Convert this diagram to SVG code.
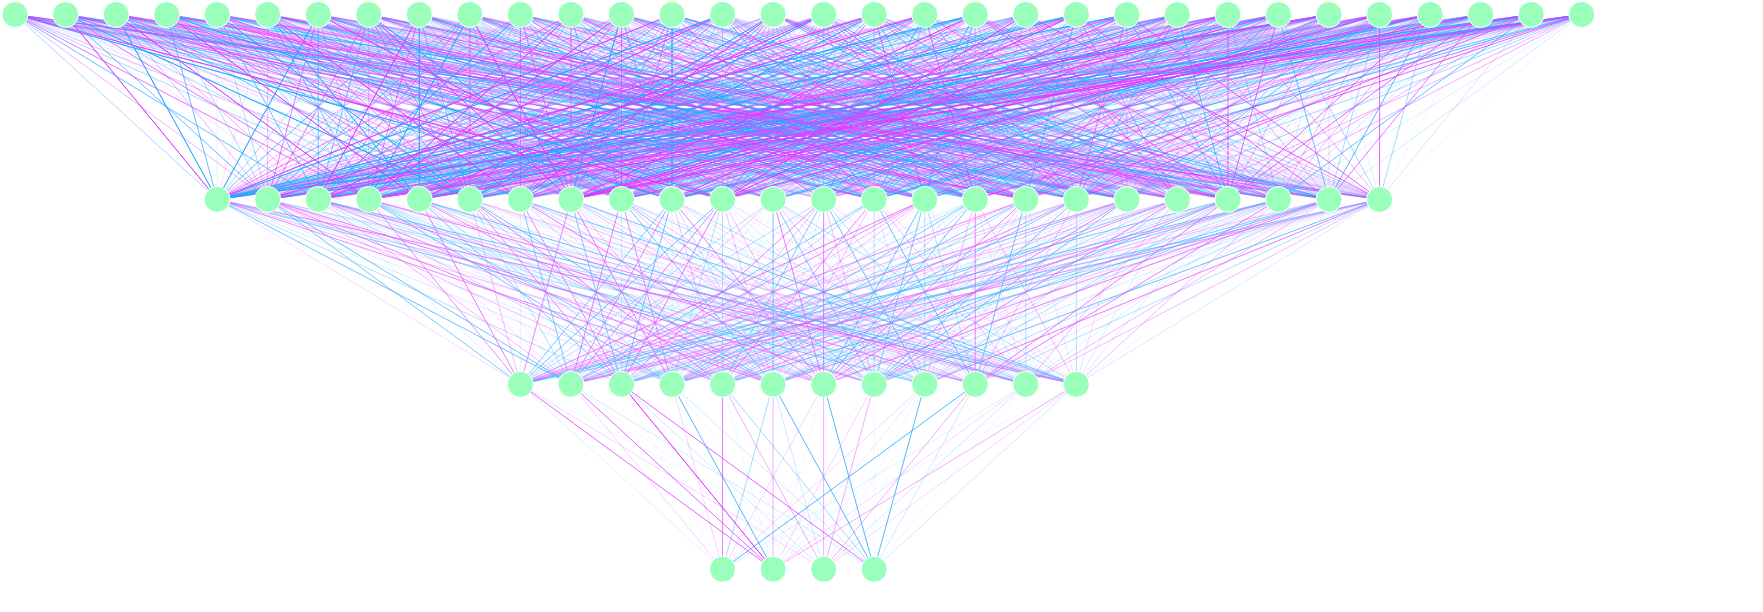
<svg xmlns="http://www.w3.org/2000/svg" width="1763" height="612" viewBox="0 0 1763 612">
<style>
path{fill:none;stroke-width:1;stroke-linejoin:round}
.a{stroke:#27a6ff;stroke-opacity:.8}
.b{stroke:#dd3cff;stroke-opacity:.8}
.c{stroke:#27a6ff;stroke-opacity:.42}
.d{stroke:#dd3cff;stroke-opacity:.42}
.e{stroke:#27a6ff;stroke-opacity:.22}
.f{stroke:#dd3cff;stroke-opacity:.22}
.g{stroke:#27a6ff;stroke-opacity:.08}
.k{stroke:#dd3cff;stroke-opacity:.08}
circle{fill:#99ffbb;stroke:#fff;stroke-width:1}
</style>
<rect width="1763" height="612" fill="#fff"/>
<g id="connectors" transform="matrix(50.54 0 0 184.93 15 14.5)">
<g id="edges-1-2">
<path class="g" vector-effect="non-scaling-stroke" d="M0 0 10 1 0 0 23 1 0 0 12 1 0 0 25 1M1 0 11 1 1 0 24 1 1 0 14 1 1 0 27 1M2 0 8 1 2 0 21 1 2 0 14 1 2 0 27 1M3 0 6 1 3 0 19 1 3 0 7 1 3 0 20 1M4 0 4 1 4 0 17 1 4 0 16 1M5 0 6 1 5 0 19 1 5 0 15 1M6 0 8 1 6 0 21 1 6 0 16 1M7 0 13 1 7 0 26 1 7 0 15 1M8 0 10 1 8 0 23 1 8 0 14 1 8 0 27 1M9 0 8 1 9 0 21 1 9 0 16 1M10 0 9 1 10 0 22 1 10 0 15 1M11 0 10 1 11 0 23 1 11 0 13 1 11 0 26 1M12 0 10 1 12 0 23 1 12 0 15 1M13 0 9 1 13 0 22 1 13 0 14 1 13 0 27 1M14 0 11 1 14 0 24 1 14 0 15 1M15 0 6 1 15 0 19 1 15 0 8 1 15 0 21 1M16 0 10 1 16 0 23 1 16 0 12 1 16 0 25 1M17 0 12 1 17 0 25 1 17 0 15 1M18 0 7 1 18 0 20 1 18 0 13 1 18 0 26 1M19 0 9 1 19 0 22 1 19 0 10 1 19 0 23 1M20 0 5 1 20 0 18 1 20 0 9 1 20 0 22 1M21 0 14 1 21 0 27 1 21 0 15 1M22 0 7 1 22 0 20 1 22 0 13 1 22 0 26 1M23 0 6 1 23 0 19 1 23 0 9 1 23 0 22 1M24 0 5 1 24 0 18 1 24 0 8 1 24 0 21 1M25 0 5 1 25 0 18 1 25 0 12 1 25 0 25 1M26 0 14 1 26 0 27 1 26 0 16 1M27 0 5 1 27 0 18 1 27 0 16 1M28 0 6 1 28 0 19 1 28 0 15 1M29 0 6 1 29 0 19 1 29 0 14 1 29 0 27 1M30 0 5 1 30 0 18 1 30 0 13 1 30 0 26 1M31 0 12 1 31 0 25 1 31 0 16 1"/>
<path class="k" vector-effect="non-scaling-stroke" d="M0 0 11 1 0 0 24 1M1 0 6 1 1 0 19 1M2 0 11 1 2 0 24 1M3 0 13 1 3 0 26 1M4 0 10 1 4 0 23 1M5 0 4 1 5 0 17 1M6 0 12 1 6 0 25 1M7 0 14 1 7 0 27 1M8 0 12 1 8 0 25 1M9 0 12 1 9 0 25 1M10 0 12 1 10 0 25 1M11 0 5 1 11 0 18 1M12 0 6 1 12 0 19 1M13 0 5 1 13 0 18 1M14 0 13 1 14 0 26 1M15 0 7 1 15 0 20 1M16 0 11 1 16 0 24 1M17 0 7 1 17 0 20 1M18 0 10 1 18 0 23 1M19 0 16 1M20 0 7 1 20 0 20 1M21 0 8 1 21 0 21 1M22 0 10 1 22 0 23 1M23 0 14 1 23 0 27 1M24 0 13 1 24 0 26 1M25 0 15 1M26 0 15 1M27 0 4 1 27 0 17 1M28 0 4 1 28 0 17 1M29 0 10 1 29 0 23 1M30 0 9 1 30 0 22 1M31 0 14 1 31 0 27 1"/>
<path class="e" vector-effect="non-scaling-stroke" d="M0 0 4 1 0 0 17 1 0 0 8 1 0 0 21 1M1 0 8 1 1 0 21 1 1 0 15 1M2 0 15 1 2 0 16 1M3 0 5 1 3 0 18 1 3 0 16 1M4 0 5 1 4 0 18 1 4 0 7 1 4 0 20 1M5 0 11 1 5 0 24 1 5 0 16 1M6 0 11 1 6 0 24 1 6 0 14 1 6 0 27 1M7 0 4 1 7 0 17 1 7 0 8 1 7 0 21 1M8 0 5 1 8 0 18 1 8 0 13 1 8 0 26 1M9 0 10 1 9 0 23 1 9 0 13 1 9 0 26 1M10 0 7 1 10 0 20 1 10 0 8 1 10 0 21 1M11 0 9 1 11 0 22 1 11 0 16 1M12 0 5 1 12 0 18 1 12 0 8 1 12 0 21 1M13 0 6 1 13 0 19 1 13 0 16 1M14 0 7 1 14 0 20 1 14 0 12 1 14 0 25 1M15 0 4 1 15 0 17 1 15 0 13 1 15 0 26 1M16 0 5 1 16 0 18 1 16 0 14 1 16 0 27 1M17 0 9 1 17 0 22 1 17 0 16 1M18 0 14 1 18 0 27 1 18 0 15 1M19 0 6 1 19 0 19 1 19 0 8 1 19 0 21 1M20 0 8 1 20 0 21 1 20 0 13 1 20 0 26 1M21 0 5 1 21 0 18 1 21 0 16 1M22 0 5 1 22 0 18 1 22 0 6 1 22 0 19 1M23 0 5 1 23 0 18 1 23 0 12 1 23 0 25 1M24 0 9 1 24 0 22 1 24 0 15 1M25 0 6 1 25 0 19 1 25 0 7 1 25 0 20 1M26 0 8 1 26 0 21 1 26 0 12 1 26 0 25 1M27 0 7 1 27 0 20 1 27 0 11 1 27 0 24 1M28 0 5 1 28 0 18 1 28 0 10 1 28 0 23 1M29 0 9 1 29 0 22 1 29 0 12 1 29 0 25 1M30 0 7 1 30 0 20 1 30 0 10 1 30 0 23 1M31 0 8 1 31 0 21 1 31 0 13 1 31 0 26 1"/>
<path class="f" vector-effect="non-scaling-stroke" d="M0 0 5 1 0 0 18 1 0 0 9 1 0 0 22 1M1 0 10 1 1 0 23 1 1 0 16 1M2 0 5 1 2 0 18 1 2 0 6 1 2 0 19 1M3 0 10 1 3 0 23 1 3 0 12 1 3 0 25 1M4 0 11 1 4 0 24 1 4 0 13 1 4 0 26 1M5 0 5 1 5 0 18 1 5 0 13 1 5 0 26 1M6 0 7 1 6 0 20 1 6 0 10 1 6 0 23 1M7 0 7 1 7 0 20 1 7 0 16 1M8 0 11 1 8 0 24 1 8 0 16 1M9 0 4 1 9 0 17 1 9 0 14 1 9 0 27 1M10 0 4 1 10 0 17 1 10 0 5 1 10 0 18 1M11 0 8 1 11 0 21 1 11 0 14 1 11 0 27 1M12 0 4 1 12 0 17 1 12 0 14 1 12 0 27 1M13 0 7 1 13 0 20 1 13 0 10 1 13 0 23 1M14 0 9 1 14 0 22 1 14 0 14 1 14 0 27 1M15 0 5 1 15 0 18 1 15 0 14 1 15 0 27 1M16 0 4 1 16 0 17 1 16 0 13 1 16 0 26 1M17 0 4 1 17 0 17 1 17 0 11 1 17 0 24 1M18 0 4 1 18 0 17 1 18 0 5 1 18 0 18 1M19 0 13 1 19 0 26 1 19 0 15 1M20 0 6 1 20 0 19 1 20 0 11 1 20 0 24 1M21 0 9 1 21 0 22 1 21 0 11 1 21 0 24 1M22 0 15 1 22 0 16 1M23 0 4 1 23 0 17 1 23 0 10 1 23 0 23 1M24 0 4 1 24 0 17 1 24 0 10 1 24 0 23 1M25 0 9 1 25 0 22 1 25 0 10 1 25 0 23 1M26 0 9 1 26 0 22 1 26 0 13 1 26 0 26 1M27 0 6 1 27 0 19 1 27 0 10 1 27 0 23 1M28 0 8 1 28 0 21 1 28 0 16 1M29 0 5 1 29 0 18 1 29 0 8 1 29 0 21 1M30 0 11 1 30 0 24 1 30 0 14 1 30 0 27 1M31 0 10 1 31 0 23 1 31 0 15 1"/>
<path class="c" vector-effect="non-scaling-stroke" d="M0 0 6 1 0 0 19 1 0 0 15 1M1 0 5 1 1 0 18 1 1 0 12 1 1 0 25 1M2 0 9 1 2 0 22 1 2 0 10 1 2 0 23 1M3 0 4 1 3 0 17 1 3 0 15 1M4 0 6 1 4 0 19 1 4 0 8 1 4 0 21 1M5 0 7 1 5 0 20 1 5 0 12 1 5 0 25 1M6 0 6 1 6 0 19 1 6 0 9 1 6 0 22 1M7 0 6 1 7 0 19 1 7 0 10 1 7 0 23 1M8 0 4 1 8 0 17 1 8 0 9 1 8 0 22 1M9 0 5 1 9 0 18 1 9 0 15 1M10 0 13 1 10 0 26 1 10 0 14 1 10 0 27 1M11 0 6 1 11 0 19 1 11 0 12 1 11 0 25 1M12 0 13 1 12 0 26 1 12 0 16 1M13 0 8 1 13 0 21 1 13 0 11 1 13 0 24 1M14 0 8 1 14 0 21 1 14 0 16 1M15 0 11 1 15 0 24 1 15 0 15 1M16 0 7 1 16 0 20 1 16 0 16 1M17 0 6 1 17 0 19 1 17 0 13 1 17 0 26 1M18 0 8 1 18 0 21 1 18 0 9 1 18 0 22 1M19 0 5 1 19 0 18 1 19 0 7 1 19 0 20 1M20 0 4 1 20 0 17 1 20 0 12 1 20 0 25 1M21 0 4 1 21 0 17 1 21 0 6 1 21 0 19 1M22 0 11 1 22 0 24 1 22 0 12 1 22 0 25 1M23 0 8 1 23 0 21 1 23 0 15 1M24 0 6 1 24 0 19 1 24 0 12 1 24 0 25 1M25 0 13 1 25 0 26 1 25 0 14 1 25 0 27 1M26 0 6 1 26 0 19 1 26 0 10 1 26 0 23 1M27 0 9 1 27 0 22 1 27 0 13 1 27 0 26 1M28 0 9 1 28 0 22 1 28 0 14 1 28 0 27 1M29 0 4 1 29 0 17 1 29 0 7 1 29 0 20 1M30 0 12 1 30 0 25 1 30 0 15 1M31 0 4 1 31 0 17 1 31 0 9 1 31 0 22 1"/>
<path class="d" vector-effect="non-scaling-stroke" d="M0 0 7 1 0 0 20 1 0 0 16 1M1 0 7 1 1 0 20 1 1 0 13 1 1 0 26 1M2 0 12 1 2 0 25 1 2 0 13 1 2 0 26 1M3 0 9 1 3 0 22 1 3 0 11 1 3 0 24 1M4 0 12 1 4 0 25 1 4 0 14 1 4 0 27 1M5 0 9 1 5 0 22 1 5 0 14 1 5 0 27 1M6 0 5 1 6 0 18 1 6 0 15 1M7 0 5 1 7 0 18 1 7 0 9 1 7 0 22 1M8 0 7 1 8 0 20 1 8 0 15 1M9 0 6 1 9 0 19 1 9 0 9 1 9 0 22 1M10 0 10 1 10 0 23 1 10 0 11 1 10 0 24 1M11 0 4 1 11 0 17 1 11 0 11 1 11 0 24 1M12 0 9 1 12 0 22 1 12 0 12 1 12 0 25 1M13 0 12 1 13 0 25 1 13 0 15 1M14 0 5 1 14 0 18 1 14 0 10 1 14 0 23 1M15 0 12 1 15 0 25 1 15 0 16 1M16 0 6 1 16 0 19 1 16 0 15 1M17 0 8 1 17 0 21 1 17 0 14 1 17 0 27 1M18 0 11 1 18 0 24 1 18 0 12 1 18 0 25 1M19 0 12 1 19 0 25 1 19 0 14 1 19 0 27 1M20 0 10 1 20 0 23 1 20 0 15 1M21 0 10 1 21 0 23 1 21 0 12 1 21 0 25 1M22 0 8 1 22 0 21 1 22 0 9 1 22 0 22 1M23 0 7 1 23 0 20 1 23 0 13 1 23 0 26 1M24 0 7 1 24 0 20 1 24 0 14 1 24 0 27 1M25 0 4 1 25 0 17 1 25 0 16 1M26 0 7 1 26 0 20 1 26 0 11 1 26 0 24 1M27 0 8 1 27 0 21 1 27 0 12 1 27 0 25 1M28 0 7 1 28 0 20 1 28 0 12 1 28 0 25 1M29 0 13 1 29 0 26 1 29 0 16 1M30 0 6 1 30 0 19 1 30 0 16 1M31 0 6 1 31 0 19 1 31 0 11 1 31 0 24 1"/>
<path class="a" vector-effect="non-scaling-stroke" d="M0 0 13 1 0 0 26 1M1 0 9 1 1 0 22 1M2 0 4 1 2 0 17 1M3 0 14 1 3 0 27 1M4 0 9 1 4 0 22 1M5 0 8 1 5 0 21 1M6 0 4 1 6 0 17 1M7 0 12 1 7 0 25 1M8 0 8 1 8 0 21 1M9 0 7 1 9 0 20 1M10 0 6 1 10 0 19 1M11 0 15 1M12 0 11 1 12 0 24 1M13 0 13 1 13 0 26 1M14 0 4 1 14 0 17 1M15 0 9 1 15 0 22 1M16 0 9 1 16 0 22 1M17 0 10 1 17 0 23 1M18 0 16 1M19 0 4 1 19 0 17 1M20 0 16 1M21 0 7 1 21 0 20 1M22 0 4 1 22 0 17 1M23 0 11 1 23 0 24 1M24 0 16 1M25 0 8 1 25 0 21 1M26 0 4 1 26 0 17 1M27 0 15 1M28 0 13 1 28 0 26 1M29 0 15 1M30 0 4 1 30 0 17 1M31 0 5 1 31 0 18 1"/>
<path class="b" vector-effect="non-scaling-stroke" d="M0 0 14 1 0 0 27 1M1 0 4 1 1 0 17 1M2 0 7 1 2 0 20 1M3 0 8 1 3 0 21 1M4 0 15 1M5 0 10 1 5 0 23 1M6 0 13 1 6 0 26 1M7 0 11 1 7 0 24 1M8 0 6 1 8 0 19 1M9 0 11 1 9 0 24 1M10 0 16 1M11 0 7 1 11 0 20 1M12 0 7 1 12 0 20 1M13 0 4 1 13 0 17 1M14 0 6 1 14 0 19 1M15 0 10 1 15 0 23 1M16 0 8 1 16 0 21 1M17 0 5 1 17 0 18 1M18 0 6 1 18 0 19 1M19 0 11 1 19 0 24 1M20 0 14 1 20 0 27 1M21 0 13 1 21 0 26 1M22 0 14 1 22 0 27 1M23 0 16 1M24 0 11 1 24 0 24 1M25 0 11 1 25 0 24 1M26 0 5 1 26 0 18 1M27 0 14 1 27 0 27 1M28 0 11 1 28 0 24 1M29 0 11 1 29 0 24 1M30 0 8 1 30 0 21 1M31 0 7 1 31 0 20 1"/>
</g>
<g id="edges-2-3" opacity="0.85">
<path class="g" vector-effect="non-scaling-stroke" d="M4 1 14 2 4 1 20 2M5 1 18 2 5 1 19 2M6 1 10 2 6 1 14 2M7 1 18 2 7 1 19 2M8 1 11 2 8 1 17 2M9 1 16 2 9 1 18 2M10 1 10 2 10 1 13 2M11 1 16 2 11 1 19 2M12 1 14 2 12 1 19 2M13 1 13 2 13 1 21 2M14 1 17 2 14 1 21 2M15 1 12 2 15 1 14 2M16 1 11 2 16 1 20 2M17 1 10 2 17 1 16 2M18 1 21 2M19 1 10 2 19 1 11 2M20 1 15 2M21 1 12 2 21 1 15 2M22 1 18 2 22 1 20 2M23 1 11 2 23 1 14 2M24 1 11 2 24 1 16 2M25 1 14 2M26 1 12 2 26 1 21 2M27 1 14 2 27 1 16 2"/>
<path class="k" vector-effect="non-scaling-stroke" d="M4 1 17 2M5 1 12 2M6 1 12 2M7 1 12 2M8 1 14 2M9 1 17 2M10 1 18 2M11 1 11 2M12 1 10 2M13 1 17 2M14 1 19 2M15 1 13 2M16 1 12 2M17 1 13 2M18 1 15 2M19 1 17 2M20 1 12 2M21 1 20 2M22 1 19 2M23 1 19 2M24 1 20 2M25 1 18 2M26 1 10 2M27 1 15 2"/>
<path class="e" vector-effect="non-scaling-stroke" d="M4 1 12 2 4 1 13 2M5 1 20 2M6 1 13 2 6 1 18 2M7 1 15 2 7 1 17 2M8 1 18 2 8 1 19 2M9 1 11 2 9 1 20 2M10 1 14 2 10 1 20 2M11 1 15 2M12 1 12 2M13 1 15 2 13 1 18 2M14 1 13 2 14 1 18 2M15 1 10 2 15 1 19 2M16 1 10 2 16 1 15 2M17 1 17 2 17 1 18 2M18 1 18 2 18 1 20 2M19 1 12 2 19 1 14 2M20 1 20 2 20 1 21 2M21 1 11 2 21 1 18 2M22 1 13 2M23 1 15 2 23 1 21 2M24 1 18 2 24 1 21 2M25 1 17 2 25 1 20 2M26 1 17 2M27 1 12 2 27 1 21 2"/>
<path class="f" vector-effect="non-scaling-stroke" d="M4 1 10 2M5 1 13 2 5 1 15 2M6 1 11 2 6 1 16 2M7 1 11 2M8 1 21 2M9 1 10 2 9 1 19 2M10 1 15 2M11 1 14 2 11 1 20 2M12 1 18 2 12 1 21 2M13 1 19 2M14 1 15 2 14 1 20 2M15 1 11 2 15 1 20 2M16 1 13 2 16 1 21 2M17 1 20 2 17 1 21 2M18 1 12 2 18 1 14 2M19 1 18 2 19 1 20 2M20 1 17 2 20 1 18 2M21 1 10 2 21 1 16 2M22 1 12 2 22 1 21 2M23 1 10 2 23 1 16 2M24 1 12 2M25 1 13 2 25 1 16 2M26 1 11 2 26 1 19 2M27 1 13 2"/>
<path class="c" vector-effect="non-scaling-stroke" d="M4 1 18 2 4 1 19 2M5 1 10 2 5 1 21 2M6 1 17 2M7 1 14 2 7 1 16 2M8 1 12 2 8 1 13 2M9 1 13 2M10 1 11 2 10 1 17 2M11 1 12 2 11 1 18 2M12 1 17 2 12 1 20 2M13 1 10 2 13 1 20 2M14 1 14 2M15 1 17 2 15 1 21 2M16 1 14 2 16 1 19 2M17 1 11 2 17 1 12 2M18 1 17 2 18 1 19 2M19 1 13 2 19 1 15 2M20 1 13 2 20 1 14 2M21 1 14 2 21 1 21 2M22 1 11 2 22 1 15 2M23 1 12 2 23 1 18 2M24 1 10 2 24 1 13 2M25 1 12 2 25 1 15 2M26 1 13 2 26 1 18 2M27 1 10 2 27 1 19 2"/>
<path class="d" vector-effect="non-scaling-stroke" d="M4 1 15 2 4 1 16 2M5 1 14 2 5 1 16 2M6 1 15 2 6 1 20 2M7 1 10 2 7 1 21 2M8 1 15 2 8 1 16 2M9 1 12 2 9 1 21 2M10 1 12 2 10 1 19 2M11 1 10 2 11 1 17 2M12 1 13 2 12 1 16 2M13 1 11 2 13 1 14 2M14 1 11 2 14 1 16 2M15 1 18 2M16 1 12 2 16 1 17 2M17 1 14 2 17 1 15 2M18 1 11 2 18 1 13 2M19 1 19 2 19 1 21 2M20 1 10 2 20 1 11 2M21 1 13 2 21 1 19 2M22 1 10 2 22 1 14 2M23 1 13 2 23 1 20 2M24 1 14 2 24 1 17 2M25 1 11 2 25 1 21 2M26 1 15 2 26 1 20 2M27 1 11 2 27 1 20 2"/>
<path class="a" vector-effect="non-scaling-stroke" d="M4 1 11 2M5 1 11 2M6 1 21 2M7 1 13 2M8 1 20 2M9 1 15 2M10 1 21 2M11 1 21 2M12 1 15 2M13 1 12 2M14 1 10 2M15 1 15 2M16 1 18 2M17 1 19 2M18 1 16 2M19 1 16 2M20 1 19 2M21 1 17 2M22 1 17 2M24 1 15 2M25 1 10 2M26 1 14 2M27 1 17 2"/>
<path class="b" vector-effect="non-scaling-stroke" d="M4 1 21 2M5 1 17 2M6 1 19 2M7 1 20 2M8 1 10 2M9 1 14 2M10 1 16 2M11 1 13 2M12 1 11 2M13 1 16 2M14 1 12 2M15 1 16 2M16 1 16 2M18 1 10 2M20 1 16 2M22 1 16 2M23 1 17 2M24 1 19 2M25 1 19 2M26 1 16 2M27 1 18 2"/>
</g>
<g id="edges-3-4">
<path class="g" vector-effect="non-scaling-stroke" d="M10 2 14 3 10 2 17 3M11 2 16 3M12 2 14 3M13 2 16 3M14 2 15 3M16 2 15 3M17 2 17 3M18 2 15 3 18 2 16 3M19 2 15 3M20 2 14 3 20 2 17 3M21 2 14 3"/>
<path class="k" vector-effect="non-scaling-stroke" d="M17 2 14 3"/>
<path class="e" vector-effect="non-scaling-stroke" d="M11 2 17 3M12 2 16 3M13 2 17 3M15 2 14 3 15 2 16 3M19 2 17 3M20 2 16 3M21 2 17 3"/>
<path class="f" vector-effect="non-scaling-stroke" d="M10 2 16 3M11 2 14 3M13 2 14 3M16 2 14 3M17 2 15 3M18 2 14 3M20 2 15 3M21 2 16 3"/>
<path class="c" vector-effect="non-scaling-stroke" d="M14 2 17 3"/>
<path class="d" vector-effect="non-scaling-stroke" d="M14 2 14 3 14 2 16 3M15 2 15 3M16 2 16 3M17 2 16 3M19 2 16 3M21 2 15 3"/>
<path class="a" vector-effect="non-scaling-stroke" d="M13 2 15 3M15 2 17 3M16 2 17 3M18 2 17 3M19 2 14 3"/>
<path class="b" vector-effect="non-scaling-stroke" d="M10 2 15 3M11 2 15 3M12 2 15 3 12 2 17 3"/>
</g>
</g>
<g id="layer1">
<g id="n1-1"><circle cx="15" cy="14.5" r="13"/></g>
<g id="n1-2"><circle cx="65.54" cy="14.5" r="13"/></g>
<g id="n1-3"><circle cx="116.08" cy="14.5" r="13"/></g>
<g id="n1-4"><circle cx="166.62" cy="14.5" r="13"/></g>
<g id="n1-5"><circle cx="217.16" cy="14.5" r="13"/></g>
<g id="n1-6"><circle cx="267.7" cy="14.5" r="13"/></g>
<g id="n1-7"><circle cx="318.24" cy="14.5" r="13"/></g>
<g id="n1-8"><circle cx="368.78" cy="14.5" r="13"/></g>
<g id="n1-9"><circle cx="419.32" cy="14.5" r="13"/></g>
<g id="n1-10"><circle cx="469.86" cy="14.5" r="13"/></g>
<g id="n1-11"><circle cx="520.4" cy="14.5" r="13"/></g>
<g id="n1-12"><circle cx="570.94" cy="14.5" r="13"/></g>
<g id="n1-13"><circle cx="621.48" cy="14.5" r="13"/></g>
<g id="n1-14"><circle cx="672.02" cy="14.5" r="13"/></g>
<g id="n1-15"><circle cx="722.56" cy="14.5" r="13"/></g>
<g id="n1-16"><circle cx="773.1" cy="14.5" r="13"/></g>
<g id="n1-17"><circle cx="823.64" cy="14.5" r="13"/></g>
<g id="n1-18"><circle cx="874.18" cy="14.5" r="13"/></g>
<g id="n1-19"><circle cx="924.72" cy="14.5" r="13"/></g>
<g id="n1-20"><circle cx="975.26" cy="14.5" r="13"/></g>
<g id="n1-21"><circle cx="1025.8" cy="14.5" r="13"/></g>
<g id="n1-22"><circle cx="1076.34" cy="14.5" r="13"/></g>
<g id="n1-23"><circle cx="1126.88" cy="14.5" r="13"/></g>
<g id="n1-24"><circle cx="1177.42" cy="14.5" r="13"/></g>
<g id="n1-25"><circle cx="1227.96" cy="14.5" r="13"/></g>
<g id="n1-26"><circle cx="1278.5" cy="14.5" r="13"/></g>
<g id="n1-27"><circle cx="1329.04" cy="14.5" r="13"/></g>
<g id="n1-28"><circle cx="1379.58" cy="14.5" r="13"/></g>
<g id="n1-29"><circle cx="1430.12" cy="14.5" r="13"/></g>
<g id="n1-30"><circle cx="1480.66" cy="14.5" r="13"/></g>
<g id="n1-31"><circle cx="1531.2" cy="14.5" r="13"/></g>
<g id="n1-32"><circle cx="1581.74" cy="14.5" r="13"/></g>
</g>
<g id="layer2">
<g id="n2-1"><circle cx="217.16" cy="199.43" r="13"/></g>
<g id="n2-2"><circle cx="267.7" cy="199.43" r="13"/></g>
<g id="n2-3"><circle cx="318.24" cy="199.43" r="13"/></g>
<g id="n2-4"><circle cx="368.78" cy="199.43" r="13"/></g>
<g id="n2-5"><circle cx="419.32" cy="199.43" r="13"/></g>
<g id="n2-6"><circle cx="469.86" cy="199.43" r="13"/></g>
<g id="n2-7"><circle cx="520.4" cy="199.43" r="13"/></g>
<g id="n2-8"><circle cx="570.94" cy="199.43" r="13"/></g>
<g id="n2-9"><circle cx="621.48" cy="199.43" r="13"/></g>
<g id="n2-10"><circle cx="672.02" cy="199.43" r="13"/></g>
<g id="n2-11"><circle cx="722.56" cy="199.43" r="13"/></g>
<g id="n2-12"><circle cx="773.1" cy="199.43" r="13"/></g>
<g id="n2-13"><circle cx="823.64" cy="199.43" r="13"/></g>
<g id="n2-14"><circle cx="874.18" cy="199.43" r="13"/></g>
<g id="n2-15"><circle cx="924.72" cy="199.43" r="13"/></g>
<g id="n2-16"><circle cx="975.26" cy="199.43" r="13"/></g>
<g id="n2-17"><circle cx="1025.8" cy="199.43" r="13"/></g>
<g id="n2-18"><circle cx="1076.34" cy="199.43" r="13"/></g>
<g id="n2-19"><circle cx="1126.88" cy="199.43" r="13"/></g>
<g id="n2-20"><circle cx="1177.42" cy="199.43" r="13"/></g>
<g id="n2-21"><circle cx="1227.96" cy="199.43" r="13"/></g>
<g id="n2-22"><circle cx="1278.5" cy="199.43" r="13"/></g>
<g id="n2-23"><circle cx="1329.04" cy="199.43" r="13"/></g>
<g id="n2-24"><circle cx="1379.58" cy="199.43" r="13"/></g>
</g>
<g id="layer3">
<g id="n3-1"><circle cx="520.4" cy="384.36" r="13"/></g>
<g id="n3-2"><circle cx="570.94" cy="384.36" r="13"/></g>
<g id="n3-3"><circle cx="621.48" cy="384.36" r="13"/></g>
<g id="n3-4"><circle cx="672.02" cy="384.36" r="13"/></g>
<g id="n3-5"><circle cx="722.56" cy="384.36" r="13"/></g>
<g id="n3-6"><circle cx="773.1" cy="384.36" r="13"/></g>
<g id="n3-7"><circle cx="823.64" cy="384.36" r="13"/></g>
<g id="n3-8"><circle cx="874.18" cy="384.36" r="13"/></g>
<g id="n3-9"><circle cx="924.72" cy="384.36" r="13"/></g>
<g id="n3-10"><circle cx="975.26" cy="384.36" r="13"/></g>
<g id="n3-11"><circle cx="1025.8" cy="384.36" r="13"/></g>
<g id="n3-12"><circle cx="1076.34" cy="384.36" r="13"/></g>
</g>
<g id="layer4">
<g id="n4-1"><circle cx="722.56" cy="569.29" r="13"/></g>
<g id="n4-2"><circle cx="773.1" cy="569.29" r="13"/></g>
<g id="n4-3"><circle cx="823.64" cy="569.29" r="13"/></g>
<g id="n4-4"><circle cx="874.18" cy="569.29" r="13"/></g>
</g>
</svg>
